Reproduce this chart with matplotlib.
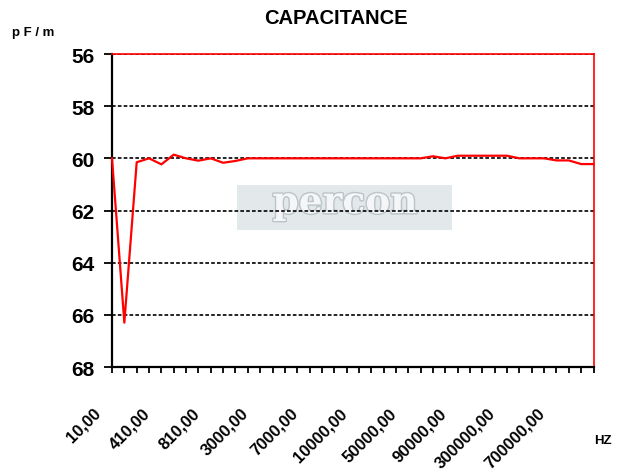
import matplotlib
matplotlib.use("Agg")
import matplotlib.pyplot as plt
import matplotlib.patheffects as pe
import matplotlib.transforms as mtransforms
import numpy as np

plt.rcParams['font.family'] = ['Liberation Sans', 'DejaVu Sans']

# Frequencies (categories) in Hz
freqs = [10, 110, 210, 310, 410, 510, 610, 710, 810, 910,
         1000, 2000, 3000, 4000, 5000, 6000, 7000, 8000, 9000, 9500,
         10000, 20000, 30000, 40000, 50000, 60000, 70000, 80000, 90000, 95000,
         100000, 200000, 300000, 400000, 500000, 600000, 700000, 800000, 900000, 1000000]
# Capacitance values (pF/m)
capacitance = [60.0, 66.3, 60.15, 60.0, 60.23, 59.86, 60.0, 60.09, 60.0, 60.17,
               60.1, 60.0, 60.0, 60.0, 60.0, 60.0, 60.0, 60.0, 60.0, 60.0,
               60.0, 60.0, 60.0, 60.0, 60.0, 60.0, 59.92, 60.0, 59.9, 59.9,
               59.9, 59.9, 59.9, 60.0, 60.0, 60.0, 60.08, 60.08, 60.22, 60.22]
label_every = 4
tick_labels = ["10,00", "410,00", "810,00", "3000,00", "7000,00", "10000,00",
               "50000,00", "90000,00", "300000,00", "700000,00"]
y_ticks = [56, 58, 60, 62, 64, 66, 68]

fig = plt.figure(figsize=(6.21, 4.77), dpi=100)
ax = fig.add_axes([112/621, 1-368/477, (593.5-112)/621, (368-55)/477])

x = np.arange(len(freqs))
ax.plot(x, capacitance, color='#ff0000', lw=1.6, zorder=3, clip_on=False)

ax.set_xlim(0, len(freqs)-1)
ax.set_ylim(68, 56)
ax.set_yticks(y_ticks)
ax.set_yticklabels([str(v) for v in y_ticks], fontsize=15, fontweight='bold')
for yv in y_ticks[:-1]:
    ax.axhline(yv, color='black', lw=1.2, ls=(0, (2.2, 1.3)), zorder=2)

ax.set_xticks(x, minor=True)
major_pos = x[::label_every][:len(tick_labels)]
ax.set_xticks(major_pos)
ax.set_xticklabels(tick_labels, fontsize=12, fontweight='bold', rotation=45,
                   ha='right', va='center', rotation_mode='anchor')
ax.tick_params(axis='x', which='both', length=4.1, width=1.3, direction='out', color='black')
ax.tick_params(axis='x', which='major', pad=27)
ax.tick_params(axis='y', length=6, width=1.3, direction='out', color='black', pad=6.5)
offset = mtransforms.ScaledTranslation(-14/100, 0, fig.dpi_scale_trans)
for lab in ax.xaxis.get_majorticklabels():
    lab.set_transform(lab.get_transform() + offset)

for s in ['top', 'right']:
    ax.spines[s].set_color('#ff0000')
    ax.spines[s].set_linewidth(1.2)
for s in ['left', 'bottom']:
    ax.spines[s].set_color('black')
    ax.spines[s].set_linewidth(1.6)

# watermark
ax.add_patch(plt.Rectangle((0.260, 0.438), 0.446, 0.144, transform=ax.transAxes,
                           facecolor='#e3e8ea', edgecolor='none', zorder=1))
ax.text(0.484, 0.525, "percon", transform=ax.transAxes, ha='center', va='center',
        fontsize=27, fontweight='bold', family='DejaVu Serif', color='#f4f6f7', zorder=1.5,
        path_effects=[pe.withStroke(linewidth=2, foreground='#bcc4c9')])

fig.text(336/621, 1-19/477, "CAPACITANCE", ha='center', va='center',
         fontsize=14.5, fontweight='bold')
fig.text(12/621, 1-33/477, "p F / m", ha='left', va='center', fontsize=9.5, fontweight='bold')
fig.text(603/621, 1-441/477, "HZ", ha='center', va='center', fontsize=9.5, fontweight='bold')

fig.savefig("out.png", dpi=100)
